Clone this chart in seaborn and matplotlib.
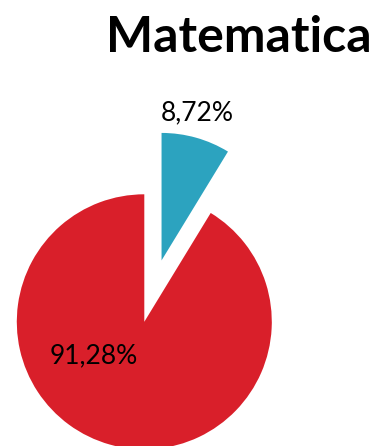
import matplotlib
matplotlib.use("Agg")
import matplotlib.pyplot as plt
import seaborn as sns

# Share of results by category
labels = ["Sì", "No"]
values = [8.72, 91.28]
colors = ["#2CA3BF", "#D91F2A"]
explode = [0.5, 0.0]
title = "Matematica"

sns.set_theme(style="white")
plt.rcParams["font.family"] = ["Lato", "DejaVu Sans"]

W, H = 377, 446
fig = plt.figure(figsize=(W / 100, H / 100), dpi=100)
ax = fig.add_axes([0, 0, 1, 1])

ax.pie(values, colors=colors, explode=explode, startangle=90,
       counterclock=False, radius=1.0,
       wedgeprops=dict(linewidth=0))

# pie geometry in pixels
cx, cy, r = 144.3, 321.8, 127.5
ax.set_xlim(-cx / r, (W - cx) / r)
ax.set_ylim((cy - H) / r, cy / r)
ax.set_aspect("equal")
ax.axis("off")

def fmt(v):
    return f"{v:.2f}".replace(".", ",") + "%"

def px(x, y):
    return (x - cx) / r, (cy - y) / r

ax.text(*px(197, 113), fmt(values[0]), ha="center", va="center",
        fontsize=19, color="black")
ax.text(*px(93.5, 356), fmt(values[1]), ha="center", va="center",
        fontsize=19, color="black")

fig.text(372 / W, 1 - 52 / H, title, ha="right", va="baseline",
         fontsize=36, fontweight="bold", color="black")

fig.savefig("out.png", dpi=100)
